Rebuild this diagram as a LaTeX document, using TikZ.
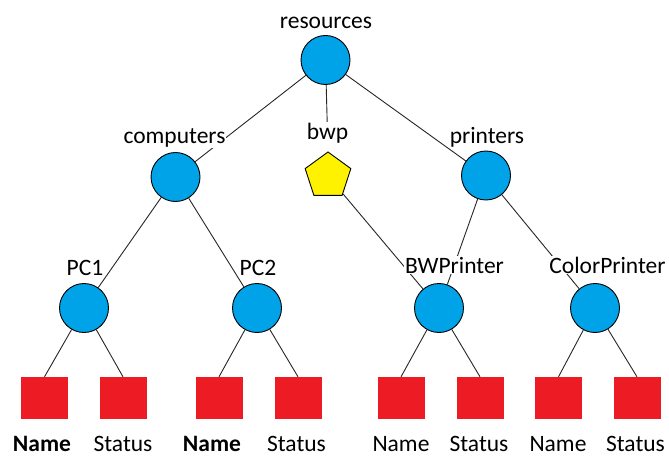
\documentclass[tikz,border=0pt]{standalone}
\usepackage{fontspec}
\setmainfont{Carlito}
\usetikzlibrary{shapes.geometric}
\definecolor{itemblue}{HTML}{00A2E8}
\definecolor{leafred}{HTML}{ED1C24}
\definecolor{refyellow}{HTML}{FFF200}
\pgfdeclarelayer{background}
\pgfsetlayers{background,main}

\begin{document}
\begin{tikzpicture}[x=1pt, y=-1pt,
    item/.style={circle, draw=black, line width=0.9pt, fill=itemblue, minimum size=49pt, inner sep=0pt},
    refnode/.style={regular polygon, regular polygon sides=5, draw=black, line width=0.9pt, fill=refyellow, minimum size=48pt, inner sep=0pt},
    leaf/.style={rectangle, fill=leafred, minimum width=47pt, minimum height=42pt, inner sep=0pt},
    lbl/.style={anchor=base, fill=white, inner sep=1pt, text=black, font=\fontsize{23.5}{28}\selectfont},
    leaflbl/.style={anchor=base, inner sep=0pt, text=black, font=\fontsize{23.5}{28}\selectfont},
    link/.style={draw=black!85, line width=0.9pt}]
            \useasboundingbox (0, 0) rectangle (669, 457);

            \node[item] (res) at (325.5, 60) {};
            \node[item] (comp) at (175.5, 177) {};
            \node[refnode] (bwp) at (328, 176) {};
            \node[item] (prn) at (486, 175.5) {};
            \node[item] (pc1) at (84, 308) {};
            \node[item] (pc2) at (257, 308) {};
            \node[item] (bwprn) at (439, 308) {};
            \node[item] (colprn) at (595, 308) {};

            \node[leaf] (pc1name) at (44.5, 398) {};
            \node[leaf] (pc1stat) at (123, 398) {};
            \node[leaf] (pc2name) at (219, 398) {};
            \node[leaf] (pc2stat) at (298, 398) {};
            \node[leaf] (bwname) at (401, 398) {};
            \node[leaf] (bwstat) at (480, 398) {};
            \node[leaf] (colname) at (558.5, 398) {};
            \node[leaf] (colstat) at (637, 398) {};

            \node[lbl] (lres) at (326, 28.5) {resources};
            \node[lbl] (lcomp) at (174.5, 143.5) {computers};
            \node[lbl] (lbwp) at (327.5, 139.5) {bwp};
            \node[lbl] (lprn) at (487, 143.5) {printers};
            \node[lbl] (lpc1) at (85, 275) {PC1};
            \node[lbl] (lpc2) at (258, 275) {PC2};
            \node[lbl] (lbwprn) at (454.5, 273) {BWPrinter};
            \node[lbl] (lcolprn) at (607.5, 273) {ColorPrinter};

            \node[leaflbl] (lpc1name) at (42, 451) {\textbf{Name}};
            \node[leaflbl] (lpc1stat) at (123, 451) {Status};
            \node[leaflbl] (lpc2name) at (212, 451) {\textbf{Name}};
            \node[leaflbl] (lpc2stat) at (296.5, 451) {Status};
            \node[leaflbl] (lbwname) at (401, 451) {Name};
            \node[leaflbl] (lbwstat) at (479, 451) {Status};
            \node[leaflbl] (lcolname) at (558, 451) {Name};
            \node[leaflbl] (lcolstat) at (635.5, 451) {Status};

            \begin{pgfonlayer}{background}
            \draw[link] (res) -- (comp);
            \draw[link] (res) -- (lbwp);
            \draw[link] (res) -- (prn);
            \draw[link] (comp) -- (pc1);
            \draw[link] (comp) -- (pc2);
            \draw[link] (bwp) -- (bwprn);
            \draw[link] (prn) -- (bwprn);
            \draw[link] (prn) -- (colprn);

            \draw[link] (pc1) -- (pc1name.north);
            \draw[link] (pc1) -- (pc1stat.north);
            \draw[link] (pc2) -- (pc2name.north);
            \draw[link] (pc2) -- (pc2stat.north);
            \draw[link] (bwprn) -- (bwname.north);
            \draw[link] (bwprn) -- (bwstat.north);
            \draw[link] (colprn) -- (colname.north);
            \draw[link] (colprn) -- (colstat.north);
            \end{pgfonlayer}
        \end{tikzpicture}
\end{document}
